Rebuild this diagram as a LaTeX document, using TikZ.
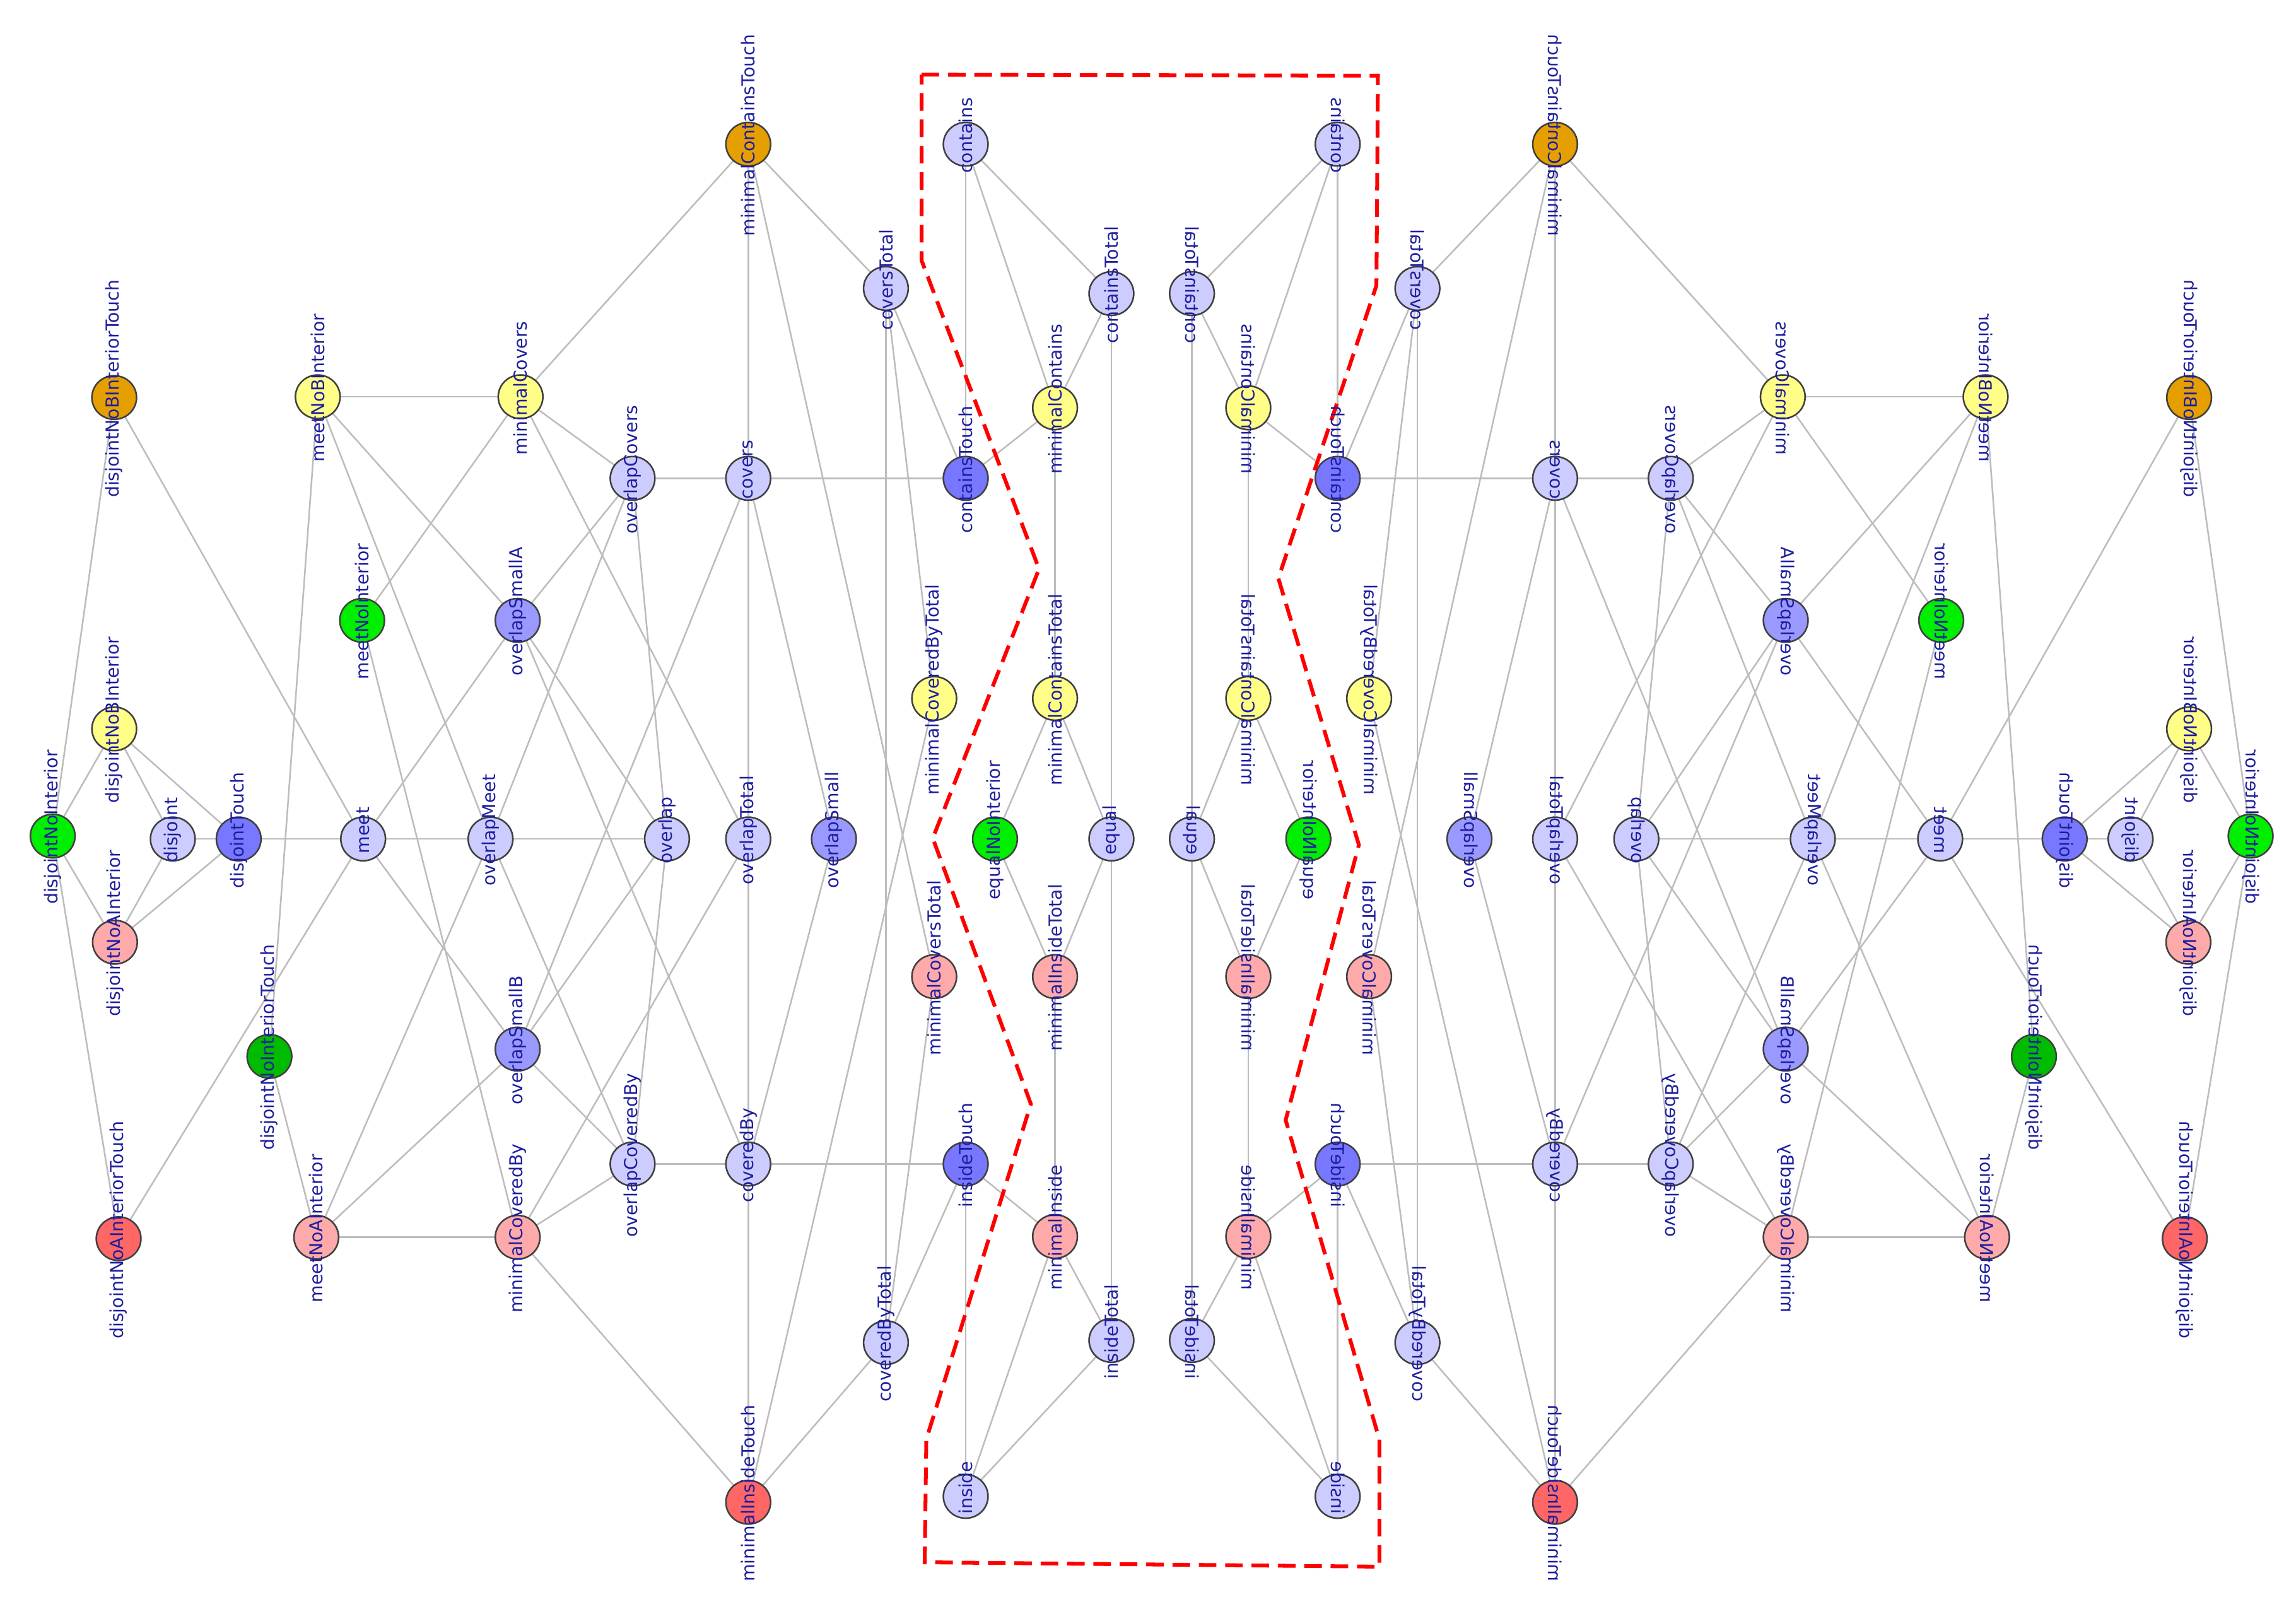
\documentclass[tikz,border=0pt]{standalone}
\usepackage{fontspec}
\newfontfamily\lblfont{DejaVu Sans}
\usetikzlibrary{shapes.geometric}
\pgfdeclarelayer{paperlayer}
\pgfdeclarelayer{edgelayer}
\pgfdeclarelayer{textlayer}
\pgfsetlayers{paperlayer,edgelayer,main,textlayer}
\definecolor{clight}{HTML}{CCCCFF}
\definecolor{cmed}{HTML}{9999FF}
\definecolor{cblue}{HTML}{7777FF}
\definecolor{cyel}{HTML}{FFFF88}
\definecolor{corange}{HTML}{E69F00}
\definecolor{cgreen}{HTML}{00EE00}
\definecolor{cdgreen}{HTML}{00BB00}
\definecolor{cpink}{HTML}{FFAAAA}
\definecolor{cred}{HTML}{FF6666}
\definecolor{txtblue}{HTML}{1E1E9E}
\definecolor{edgegray}{HTML}{BDBDBD}
\definecolor{ringgray}{HTML}{404040}
\definecolor{boxred}{HTML}{FF0000}
\tikzset{
  vtx/.style={ellipse, draw=ringgray, line width=1.1pt, minimum width=30.5pt, minimum height=29.8pt, inner sep=0pt},
  vlt/.style={vtx, fill=clight},
  vmd/.style={vtx, fill=cmed},
  vbl/.style={vtx, fill=cblue},
  vye/.style={vtx, fill=cyel},
  vor/.style={vtx, fill=corange},
  vgr/.style={vtx, fill=cgreen},
  vdg/.style={vtx, fill=cdgreen},
  vpk/.style={vtx, fill=cpink},
  vrd/.style={vtx, fill=cred},
  lnk/.style={draw=edgegray, line width=1.1pt},
  lbl/.style={rotate=90, transform shape, inner sep=0pt, text=txtblue, font=\lblfont\fontsize{12.2}{14}\selectfont},
  redbox/.style={draw=boxred, line width=2.6pt, dash pattern=on 12pt off 6pt, line join=miter}
}
\newcommand\halfgraph[1]{%
  \node[vor] (#1mCT) at (511,98.5) {};
  \node[vlt] (#1con) at (659.5,98.5) {};
  \node[vlt] (#1cvT) at (605,197) {};
  \node[vlt] (#1cnT) at (759,200.5) {};
  \node[vor] (#1dNBIT) at (78,271.5) {};
  \node[vye] (#1mNBI) at (217,271) {};
  \node[vye] (#1mCv) at (355.5,271) {};
  \node[vye] (#1mCn) at (720.5,278.5) {};
  \node[vlt] (#1oCv) at (432,326.7) {};
  \node[vlt] (#1cv) at (511,326.7) {};
  \node[vbl] (#1cnTch) at (659.5,326.7) {};
  \node[vgr] (#1mNI) at (247.3,423.7) {};
  \node[vmd] (#1oSA) at (353.5,423.7) {};
  \node[vye] (#1mCBT) at (638,477) {};
  \node[vye] (#1mCnT) at (720.5,477) {};
  \node[vye] (#1dNBI) at (78,497.8) {};
  \node[vgr] (#1dNI) at (36,571) {};
  \node[vlt] (#1dj) at (118,573) {};
  \node[vbl] (#1djT) at (163,573) {};
  \node[vlt] (#1mt) at (248,573) {};
  \node[vlt] (#1oM) at (335,573) {};
  \node[vlt] (#1ov) at (455.5,573) {};
  \node[vlt] (#1oT) at (511,573) {};
  \node[vmd] (#1oS) at (569.5,573) {};
  \node[vgr] (#1eNI) at (679.5,573) {};
  \node[vlt] (#1eq) at (759,573) {};
  \node[vpk] (#1dNAI) at (78.5,643.5) {};
  \node[vpk] (#1mCvT) at (638,667) {};
  \node[vpk] (#1mIT) at (720.5,667) {};
  \node[vmd] (#1oSB) at (353.5,716.5) {};
  \node[vdg] (#1dNIT) at (184,721.5) {};
  \node[vlt] (#1oCB) at (432,795) {};
  \node[vlt] (#1cB) at (511,795) {};
  \node[vbl] (#1iT) at (659.5,795) {};
  \node[vrd] (#1dNAIT) at (81,846) {};
  \node[vpk] (#1mNAI) at (216,845) {};
  \node[vpk] (#1mCB) at (353.5,845) {};
  \node[vpk] (#1mI) at (720.5,844.5) {};
  \node[vlt] (#1cBT) at (605,917) {};
  \node[vlt] (#1iTot) at (759,915.5) {};
  \node[vrd] (#1mIT2) at (511,1026) {};
  \node[vlt] (#1ins) at (659.5,1022) {};
  \begin{pgfonlayer}{edgelayer}
    \draw[lnk] (#1mCT) -- (#1mCv);
    \draw[lnk] (#1mCT) -- (#1cv);
    \draw[lnk] (#1mCT) -- (#1cvT);
    \draw[lnk] (#1mCT) -- (#1mCvT);
    \draw[lnk] (#1con) -- (#1cnTch);
    \draw[lnk] (#1con) -- (#1mCn);
    \draw[lnk] (#1con) -- (#1cnT);
    \draw[lnk] (#1cvT) -- (#1cnTch);
    \draw[lnk] (#1cvT) -- (#1mCBT);
    \draw[lnk] (#1cvT) -- (#1cBT);
    \draw[lnk] (#1cnT) -- (#1mCn);
    \draw[lnk] (#1cnT) -- (#1eq);
    \draw[lnk] (#1mCn) -- (#1cnTch);
    \draw[lnk] (#1mCn) -- (#1mCnT);
    \draw[lnk] (#1dNBIT) -- (#1dNI);
    \draw[lnk] (#1dNBIT) -- (#1mt);
    \draw[lnk] (#1mNBI) -- (#1mCv);
    \draw[lnk] (#1mNBI) -- (#1dNIT);
    \draw[lnk] (#1mNBI) -- (#1oM);
    \draw[lnk] (#1mNBI) -- (#1oSA);
    \draw[lnk] (#1mCv) -- (#1oCv);
    \draw[lnk] (#1mCv) -- (#1mNI);
    \draw[lnk] (#1mCv) -- (#1oT);
    \draw[lnk] (#1oCv) -- (#1cv);
    \draw[lnk] (#1oCv) -- (#1oSA);
    \draw[lnk] (#1oCv) -- (#1oM);
    \draw[lnk] (#1oCv) -- (#1ov);
    \draw[lnk] (#1cv) -- (#1cnTch);
    \draw[lnk] (#1cv) -- (#1oT);
    \draw[lnk] (#1cv) -- (#1oSB);
    \draw[lnk] (#1cv) -- (#1oS);
    \draw[lnk] (#1mNI) -- (#1mCB);
    \draw[lnk] (#1oSA) -- (#1mt);
    \draw[lnk] (#1oSA) -- (#1ov);
    \draw[lnk] (#1oSA) -- (#1cB);
    \draw[lnk] (#1mCnT) -- (#1eNI);
    \draw[lnk] (#1mCnT) -- (#1eq);
    \draw[lnk] (#1dNBI) -- (#1dNI);
    \draw[lnk] (#1dNBI) -- (#1dj);
    \draw[lnk] (#1dNBI) -- (#1djT);
    \draw[lnk] (#1dNI) -- (#1dNAI);
    \draw[lnk] (#1dNI) -- (#1dNAIT);
    \draw[lnk] (#1dj) -- (#1djT);
    \draw[lnk] (#1dj) -- (#1dNAI);
    \draw[lnk] (#1djT) -- (#1dNAI);
    \draw[lnk] (#1djT) -- (#1mt);
    \draw[lnk] (#1mt) -- (#1oM);
    \draw[lnk] (#1mt) -- (#1dNAIT);
    \draw[lnk] (#1mt) -- (#1oSB);
    \draw[lnk] (#1oM) -- (#1ov);
    \draw[lnk] (#1oM) -- (#1mNAI);
    \draw[lnk] (#1oM) -- (#1oCB);
    \draw[lnk] (#1ov) -- (#1oSB);
    \draw[lnk] (#1ov) -- (#1oCB);
    \draw[lnk] (#1oT) -- (#1cB);
    \draw[lnk] (#1oT) -- (#1mCB);
    \draw[lnk] (#1oS) -- (#1cB);
    \draw[lnk] (#1eNI) -- (#1mIT);
    \draw[lnk] (#1eq) -- (#1mIT);
    \draw[lnk] (#1eq) -- (#1iTot);
    \draw[lnk] (#1mCvT) -- (#1cBT);
    \draw[lnk] (#1mIT) -- (#1mI);
    \draw[lnk] (#1oSB) -- (#1mNAI);
    \draw[lnk] (#1oSB) -- (#1oCB);
    \draw[lnk] (#1dNIT) -- (#1mNAI);
    \draw[lnk] (#1oCB) -- (#1cB);
    \draw[lnk] (#1oCB) -- (#1mCB);
    \draw[lnk] (#1cB) -- (#1iT);
    \draw[lnk] (#1cB) -- (#1mIT2);
    \draw[lnk] (#1iT) -- (#1mI);
    \draw[lnk] (#1iT) -- (#1ins);
    \draw[lnk] (#1iT) -- (#1cBT);
    \draw[lnk] (#1mNAI) -- (#1mCB);
    \draw[lnk] (#1mCB) -- (#1mIT2);
    \draw[lnk] (#1mI) -- (#1iTot);
    \draw[lnk] (#1mI) -- (#1ins);
    \draw[lnk] (#1cBT) -- (#1mIT2);
    \draw[lnk] (#1iTot) -- (#1ins);
    \draw[lnk] (#1mCBT) -- (#1mIT2);
  \end{pgfonlayer}
  \begin{pgfonlayer}{textlayer}
    \node[lbl] (#1mCT-t) at ([yshift=6pt]#1mCT.center) {minimalContainsTouch};
    \node[lbl] (#1con-t) at ([yshift=6pt]#1con.center) {contains};
    \node[lbl] (#1cvT-t) at ([yshift=6pt]#1cvT.center) {coversTotal};
    \node[lbl] (#1cnT-t) at ([yshift=6pt]#1cnT.center) {containsTotal};
    \node[lbl] (#1dNBIT-t) at ([yshift=6pt]#1dNBIT.center) {disjointNoBInteriorTouch};
    \node[lbl] (#1mNBI-t) at ([yshift=6pt]#1mNBI.center) {meetNoBInterior};
    \node[lbl] (#1mCv-t) at ([yshift=6pt]#1mCv.center) {minimalCovers};
    \node[lbl] (#1mCn-t) at ([yshift=6pt]#1mCn.center) {minimalContains};
    \node[lbl] (#1oCv-t) at ([yshift=6pt]#1oCv.center) {overlapCovers};
    \node[lbl] (#1cv-t) at ([yshift=6pt]#1cv.center) {covers};
    \node[lbl] (#1cnTch-t) at ([yshift=6pt]#1cnTch.center) {containsTouch};
    \node[lbl] (#1mNI-t) at ([yshift=6pt]#1mNI.center) {meetNoInterior};
    \node[lbl] (#1oSA-t) at ([yshift=6pt]#1oSA.center) {overlapSmallA};
    \node[lbl] (#1mCBT-t) at ([yshift=6pt]#1mCBT.center) {minimalCoveredByTotal};
    \node[lbl] (#1mCnT-t) at ([yshift=6pt]#1mCnT.center) {minimalContainsTotal};
    \node[lbl] (#1dNBI-t) at ([yshift=6pt]#1dNBI.center) {disjointNoBInterior};
    \node[lbl] (#1dNI-t) at ([yshift=6pt]#1dNI.center) {disjointNoInterior};
    \node[lbl] (#1dj-t) at ([yshift=6pt]#1dj.center) {disjoint};
    \node[lbl] (#1djT-t) at ([yshift=6pt]#1djT.center) {disjointTouch};
    \node[lbl] (#1mt-t) at ([yshift=6pt]#1mt.center) {meet};
    \node[lbl] (#1oM-t) at ([yshift=6pt]#1oM.center) {overlapMeet};
    \node[lbl] (#1ov-t) at ([yshift=6pt]#1ov.center) {overlap};
    \node[lbl] (#1oT-t) at ([yshift=6pt]#1oT.center) {overlapTotal};
    \node[lbl] (#1oS-t) at ([yshift=6pt]#1oS.center) {overlapSmall};
    \node[lbl] (#1eNI-t) at ([yshift=6pt]#1eNI.center) {equalNoInterior};
    \node[lbl] (#1eq-t) at ([yshift=6pt]#1eq.center) {equal};
    \node[lbl] (#1dNAI-t) at ([yshift=6pt]#1dNAI.center) {disjointNoAInterior};
    \node[lbl] (#1mCvT-t) at ([yshift=6pt]#1mCvT.center) {minimalCoversTotal};
    \node[lbl] (#1mIT-t) at ([yshift=6pt]#1mIT.center) {minimalInsideTotal};
    \node[lbl] (#1oSB-t) at ([yshift=6pt]#1oSB.center) {overlapSmallB};
    \node[lbl] (#1dNIT-t) at ([yshift=6pt]#1dNIT.center) {disjointNoInteriorTouch};
    \node[lbl] (#1oCB-t) at ([yshift=6pt]#1oCB.center) {overlapCoveredBy};
    \node[lbl] (#1cB-t) at ([yshift=6pt]#1cB.center) {coveredBy};
    \node[lbl] (#1iT-t) at ([yshift=6pt]#1iT.center) {insideTouch};
    \node[lbl] (#1dNAIT-t) at ([yshift=6pt]#1dNAIT.center) {disjointNoAInteriorTouch};
    \node[lbl] (#1mNAI-t) at ([yshift=6pt]#1mNAI.center) {meetNoAInterior};
    \node[lbl] (#1mCB-t) at ([yshift=6pt]#1mCB.center) {minimalCoveredBy};
    \node[lbl] (#1mI-t) at ([yshift=6pt]#1mI.center) {minimalInside};
    \node[lbl] (#1cBT-t) at ([yshift=6pt]#1cBT.center) {coveredByTotal};
    \node[lbl] (#1iTot-t) at ([yshift=6pt]#1iTot.center) {insideTotal};
    \node[lbl] (#1mIT2-t) at ([yshift=6pt]#1mIT2.center) {minimalInsideTouch};
    \node[lbl] (#1ins-t) at ([yshift=6pt]#1ins.center) {inside};
  \end{pgfonlayer}
}
\begin{document}
\begin{tikzpicture}[x=1pt, y=-1pt]
  \useasboundingbox (0,0) rectangle (1568,1102);
  \begin{pgfonlayer}{paperlayer}
    \fill[white] (0,0) rectangle (1568,1102);
  \end{pgfonlayer}
  \halfgraph{L}
  \begin{scope}[xshift=1573pt, xscale=-1]
    \halfgraph{R}
  \end{scope}
  \draw[redbox] (629.4,51) -- (941,51.7) -- (940,195) -- (873,395) -- (928,577)
    -- (878,765) -- (942,983) -- (942,1070) -- (631.5,1067) -- (632.6,983)
    -- (704,754) -- (637,572.5) -- (709.6,388.6) -- (629.4,178) -- cycle;
\end{tikzpicture}
\end{document}
